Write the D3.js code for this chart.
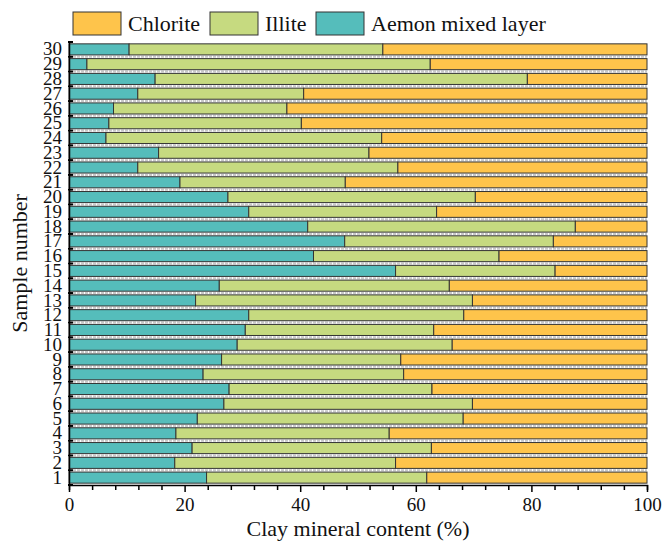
<!DOCTYPE html>
<html>
<head>
<meta charset="utf-8">
<script src="https://cdn.jsdelivr.net/npm/d3@7"></script>
<style>
  body { margin: 0; background: #fff; }
  svg text { font-family: "Liberation Serif", "DejaVu Serif", serif; }
</style>
</head>
<body>
<div id="chart"></div>
<script>
// sample numbers 1..30
const samples = d3.range(1, 31).map(String);
// clay mineral content (%) per sample, 1..30
const aemon = [23.8, 18.3, 21.3, 18.5, 22.2, 26.8, 27.7, 23.2, 26.4, 29.1,
               30.5, 31.1, 21.9, 26.0, 56.5, 42.3, 47.7, 41.3, 31.1, 27.5,
               19.2, 11.9, 15.5, 6.4, 6.9, 7.7, 11.9, 14.9, 3.1, 10.4];
const illite = [38.1, 38.2, 41.4, 36.9, 46.0, 43.0, 35.1, 34.7, 31.0, 37.2,
                32.6, 37.2, 47.9, 39.8, 27.6, 32.1, 36.1, 46.3, 32.5, 42.8,
                28.6, 45.0, 36.4, 47.7, 33.3, 30.0, 28.7, 64.4, 59.4, 43.9];
const chlorite = aemon.map((a, i) => +(100 - a - illite[i]).toFixed(1));

const seriesKeys = ["Aemon mixed layer", "Illite", "Chlorite"];
const legendKeys = ["Chlorite", "Illite", "Aemon mixed layer"];
const colors = {"Chlorite": "#fec44b", "Illite": "#c6da80", "Aemon mixed layer": "#55bdbb"};
const xTicks = d3.range(0, 101, 4);
const xLabels = [0, 20, 40, 60, 80, 100];

const width = 662, height = 546;
const margin = {top: 42, right: 15, bottom: 61, left: 69};
const serif = '"Liberation Serif", "DejaVu Serif", serif';

const table = samples.map((s, i) => ({
  sample: s,
  "Aemon mixed layer": aemon[i],
  "Illite": illite[i],
  "Chlorite": chlorite[i]
}));
const stack = d3.stack().keys(seriesKeys)(table);

const x = d3.scaleLinear().domain([0, 100]).range([margin.left, width - margin.right]);
const y = d3.scaleBand().domain(samples.slice().reverse())
    .range([margin.top, height - margin.bottom]).paddingInner(0.25).paddingOuter(0.125);

const svg = d3.select("#chart").append("svg")
    .attr("width", width).attr("height", height);

// gray separators between bars
const step = y.step();
svg.append("g")
  .selectAll("line")
  .data(d3.range(1, samples.length))
  .join("line")
    .attr("x1", x(0)).attr("x2", x(100))
    .attr("y1", i => margin.top + i * step)
    .attr("y2", i => margin.top + i * step)
    .attr("stroke", "#c8c8c8")
    .attr("stroke-width", 2)
    .attr("stroke-dasharray", "3,1");

// bars
svg.append("g")
  .selectAll("g")
  .data(stack)
  .join("g")
    .attr("fill", d => colors[d.key])
  .selectAll("rect")
  .data(d => d)
  .join("rect")
    .attr("x", d => x(d[0]))
    .attr("y", d => y(d.data.sample))
    .attr("width", d => x(d[1]) - x(d[0]))
    .attr("height", y.bandwidth())
    .attr("stroke", "#333")
    .attr("stroke-width", 1);

// x axis
const xAxis = svg.append("g")
    .attr("transform", `translate(0,${height - margin.bottom})`)
    .call(d3.axisBottom(x).tickValues(xTicks).tickSize(5)
      .tickFormat(d => xLabels.includes(d) ? d : ""))
    .attr("font-family", serif);
xAxis.select(".domain").attr("stroke", "#000").attr("stroke-width", 1.5);
xAxis.selectAll(".tick line").attr("stroke", "#000").attr("stroke-width", 1.5)
    .attr("y2", d => xLabels.includes(d) ? 7 : 5);
xAxis.selectAll(".tick text").attr("font-size", 19).attr("dy", "0.95em").attr("fill", "#111");

svg.append("text")
    .attr("x", (x(0) + x(100)) / 2).attr("y", 536)
    .attr("text-anchor", "middle").attr("font-size", 22).attr("fill", "#111")
    .text("Clay mineral content (%)");

// y axis
const yAxis = svg.append("g")
    .attr("transform", `translate(${margin.left},0)`)
    .call(d3.axisLeft(y).tickSize(0).tickPadding(7))
    .attr("font-family", serif);
yAxis.select(".domain").attr("stroke", "#000").attr("stroke-width", 1.5);
yAxis.selectAll(".tick text").attr("font-size", 19).attr("fill", "#111");

// y ticks at band boundaries
svg.append("g")
  .selectAll("line")
  .data(d3.range(0, samples.length + 1))
  .join("line")
    .attr("x1", margin.left - 1).attr("x2", margin.left + 4)
    .attr("y1", i => margin.top + i * step)
    .attr("y2", i => margin.top + i * step)
    .attr("stroke", "#000").attr("stroke-width", 2);

svg.append("text")
    .attr("transform", `translate(27,${(margin.top + height - margin.bottom) / 2}) rotate(-90)`)
    .attr("text-anchor", "middle").attr("font-size", 22).attr("fill", "#111")
    .text("Sample number");

// legend
const legendX = [73, 210, 316];
const legend = svg.append("g")
  .selectAll("g")
  .data(legendKeys)
  .join("g")
    .attr("transform", (d, i) => `translate(${legendX[i]},12)`);
legend.append("rect")
    .attr("width", 48).attr("height", 23)
    .attr("fill", d => colors[d]).attr("stroke", "#333");
legend.append("text")
    .attr("x", 55).attr("y", 19)
    .attr("font-size", 22).attr("fill", "#111")
    .text(d => d);
</script>
</body>
</html>
